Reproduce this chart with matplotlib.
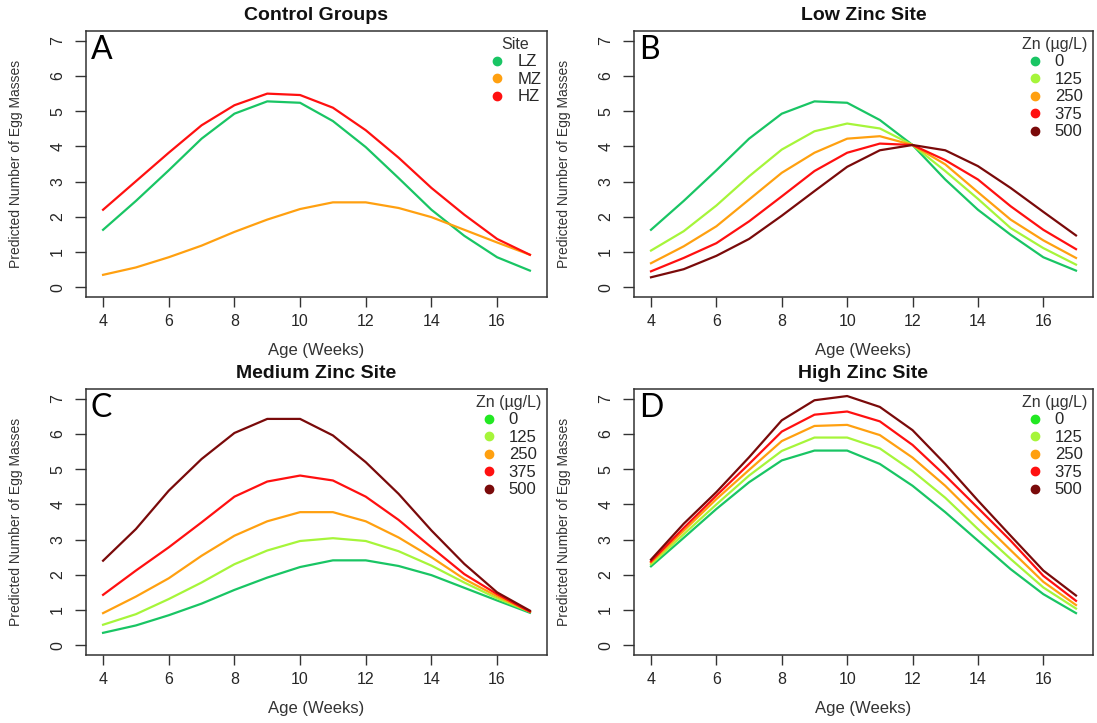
import matplotlib
matplotlib.use("Agg")
import matplotlib.pyplot as plt
from matplotlib.lines import Line2D

plt.rcParams['font.family'] = ['Liberation Sans', 'DejaVu Sans']

weeks = [4, 5, 6, 7, 8, 9, 10, 11, 12, 13, 14, 15, 16, 17]

# Panel A: control groups by site
ctrl_LZ = [1.63, 2.45, 3.32, 4.22, 4.93, 5.28, 5.24, 4.72, 3.98, 3.10, 2.20, 1.46, 0.85, 0.47]
ctrl_MZ = [0.35, 0.56, 0.85, 1.18, 1.57, 1.92, 2.22, 2.41, 2.41, 2.25, 1.99, 1.63, 1.27, 0.92]
ctrl_HZ = [2.20, 3.01, 3.82, 4.60, 5.17, 5.50, 5.46, 5.10, 4.46, 3.68, 2.82, 2.06, 1.37, 0.92]

# Panel B: low zinc site
low_0   = [1.63, 2.45, 3.32, 4.22, 4.93, 5.28, 5.24, 4.75, 4.04, 3.06, 2.20, 1.49, 0.85, 0.47]
low_125 = [1.04, 1.59, 2.32, 3.15, 3.91, 4.43, 4.65, 4.51, 4.04, 3.30, 2.51, 1.68, 1.11, 0.64]
low_250 = [0.68, 1.16, 1.73, 2.49, 3.25, 3.82, 4.22, 4.29, 4.04, 3.49, 2.70, 1.92, 1.33, 0.83]
low_375 = [0.45, 0.83, 1.25, 1.87, 2.58, 3.30, 3.82, 4.08, 4.04, 3.61, 3.06, 2.30, 1.63, 1.08]
low_500 = [0.28, 0.51, 0.89, 1.37, 2.03, 2.73, 3.42, 3.89, 4.04, 3.89, 3.44, 2.82, 2.14, 1.47]

# Panel C: medium zinc site
med_0   = [0.35, 0.56, 0.85, 1.18, 1.57, 1.92, 2.22, 2.41, 2.41, 2.25, 1.99, 1.63, 1.27, 0.92]
med_125 = [0.58, 0.88, 1.31, 1.78, 2.30, 2.69, 2.96, 3.04, 2.96, 2.67, 2.26, 1.78, 1.33, 0.95]
med_250 = [0.91, 1.38, 1.90, 2.54, 3.11, 3.52, 3.78, 3.78, 3.52, 3.06, 2.50, 1.88, 1.39, 0.95]
med_375 = [1.43, 2.12, 2.78, 3.49, 4.22, 4.65, 4.82, 4.68, 4.22, 3.56, 2.78, 2.02, 1.45, 0.95]
med_500 = [2.40, 3.30, 4.39, 5.29, 6.03, 6.43, 6.43, 5.96, 5.20, 4.30, 3.26, 2.31, 1.50, 0.98]

# Panel D: high zinc site
high_0   = [2.24, 3.05, 3.87, 4.63, 5.25, 5.53, 5.53, 5.15, 4.53, 3.78, 2.97, 2.16, 1.45, 0.91]
high_125 = [2.30, 3.15, 4.00, 4.82, 5.52, 5.90, 5.90, 5.59, 4.95, 4.19, 3.30, 2.45, 1.64, 1.04]
high_250 = [2.35, 3.25, 4.15, 4.98, 5.80, 6.23, 6.26, 5.97, 5.33, 4.53, 3.61, 2.70, 1.80, 1.14]
high_375 = [2.38, 3.33, 4.25, 5.15, 6.07, 6.55, 6.64, 6.36, 5.69, 4.82, 3.90, 2.97, 1.97, 1.26]
high_500 = [2.43, 3.45, 4.35, 5.34, 6.39, 6.96, 7.08, 6.77, 6.11, 5.15, 4.11, 3.11, 2.12, 1.41]

site_labels = ["LZ", "MZ", "HZ"]
zn_labels = ["0", "125", "250", "375", "500"]
x_ticks = [4, 6, 8, 10, 12, 14, 16]
y_ticks = [0, 1, 2, 3, 4, 5, 6, 7]

c_green = "#19c564"
c_lgreen = "#a6f53a"
c_orange = "#ffa010"
c_red = "#ff1010"
c_dred = "#7a0a0a"
c_bgreen = "#22e822"

W, H = 1097, 723
fig = plt.figure(figsize=(W / 100, H / 100), dpi=100)

panels = [
    dict(box=(86, 547, 31, 297), title="Control Groups", letter="A",
         series=[ctrl_LZ, ctrl_MZ, ctrl_HZ], colors=[c_green, c_orange, c_red],
         leg_labels=site_labels, leg_colors=[c_green, c_orange, c_red], leg_title="Site"),
    dict(box=(634, 1093, 31, 297), title="Low Zinc Site", letter="B",
         series=[low_0, low_125, low_250, low_375, low_500],
         colors=[c_green, c_lgreen, c_orange, c_red, c_dred],
         leg_labels=zn_labels, leg_colors=[c_green, c_lgreen, c_orange, c_red, c_dred],
         leg_title="Zn (\u00b5g/L)"),
    dict(box=(86, 547, 389, 655), title="Medium Zinc Site", letter="C",
         series=[med_0, med_125, med_250, med_375, med_500],
         colors=[c_green, c_lgreen, c_orange, c_red, c_dred],
         leg_labels=zn_labels, leg_colors=[c_bgreen, c_lgreen, c_orange, c_red, c_dred],
         leg_title="Zn (\u00b5g/L)"),
    dict(box=(634, 1093, 389, 655), title="High Zinc Site", letter="D",
         series=[high_0, high_125, high_250, high_375, high_500],
         colors=[c_green, c_lgreen, c_orange, c_red, c_dred],
         leg_labels=zn_labels, leg_colors=[c_bgreen, c_lgreen, c_orange, c_red, c_dred],
         leg_title="Zn (\u00b5g/L)"),
]

txt = "#262626"
for p in panels:
    l, r, t, b = p["box"]
    ax = fig.add_axes([l / W, 1 - b / H, (r - l) / W, (b - t) / H])
    aw, ah = r - l, b - t
    for ys, c in zip(p["series"], p["colors"]):
        ax.plot(weeks, ys, color=c, lw=1.6, solid_joinstyle="round")
    ax.set_xlim(3.48, 17.52)
    ax.set_ylim(-0.28, 7.28)
    ax.set_xticks(x_ticks)
    ax.set_yticks(y_ticks)
    for s in ax.spines.values():
        s.set_color("#333333")
        s.set_linewidth(1.1)
    ax.tick_params(axis="x", length=7, width=1.0, color="#333333", pad=5,
                   labelsize=11.5, labelcolor=txt)
    ax.tick_params(axis="y", length=8, width=1.0, color="#333333", pad=7,
                   labelsize=11.5, labelcolor=txt, labelrotation=90)
    for lab in ax.get_yticklabels():
        lab.set_verticalalignment("center")
    ax.text(0.5, 1 + 15 / ah, p["title"], transform=ax.transAxes, ha="center",
            va="center", fontsize=14, fontweight="bold", color="#111111")
    ax.text(0.5, -54 / ah, "Age (Weeks)", transform=ax.transAxes, ha="center",
            va="center", fontsize=12, color="#333333")
    ax.text(-(l - 16) / aw if l < 300 else -(l - 564) / aw, 0.5,
            "Predicted Number of Egg Masses", transform=ax.transAxes,
            rotation=90, ha="center", va="center", fontsize=10,
            family=["Liberation Sans Narrow", "Liberation Sans", "DejaVu Sans"],
            color="#333333")
    ax.text(5 / aw, 1 - 4 / ah, p["letter"], transform=ax.transAxes, ha="left",
            va="top", fontsize=23, family=["Lato", "DejaVu Sans"], color="#000000")
    handles = [Line2D([], [], ls="none", marker="o", ms=6, color=c, mec=c)
               for c in p["leg_colors"]]
    leg = ax.legend(handles, p["leg_labels"], title=p["leg_title"], loc="upper right",
                    frameon=False, fontsize=12, title_fontsize=11.5,
                    handletextpad=0.7, labelspacing=0.15, borderaxespad=0.1,
                    handlelength=1.0, borderpad=0.25)
    for tx in leg.get_texts():
        tx.set_color(txt)
    leg.get_title().set_color("#333333")

fig.savefig("out.png", dpi=100)
